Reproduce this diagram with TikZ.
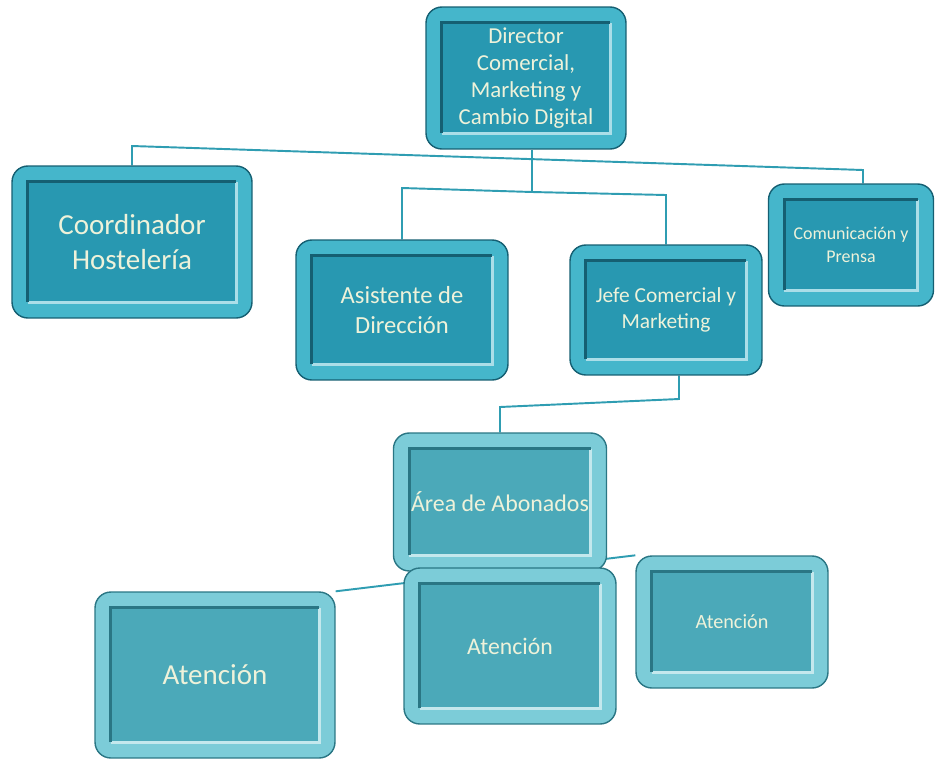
\documentclass[tikz,border=0pt]{standalone}
\usepackage{fontspec}
\setmainfont{Carlito}
\usetikzlibrary{backgrounds}

\definecolor{rimA}{HTML}{45B6CB}
\definecolor{faceA}{HTML}{2898B1}
\definecolor{edgeA}{HTML}{155F72}
\definecolor{rimB}{HTML}{7CCCD8}
\definecolor{faceB}{HTML}{4BA9B9}
\definecolor{edgeB}{HTML}{2A7684}
\definecolor{linkcol}{HTML}{2F9DB2}
\definecolor{txtcol}{HTML}{EEF2DA}

\tikzset{
  orgbox/.style n args={3}{draw=#3, line width=0.8pt, fill=#1, rounded corners=9pt,
    text=txtcol, align=center, inner sep=10pt,
    path picture={
      \fill[#2, sharp corners] ([shift={(9pt,-9pt)}]path picture bounding box.north west)
        rectangle ([shift={(-9pt,9pt)}]path picture bounding box.south east);
      \draw[white!55!#1, line width=1.6pt, sharp corners] ([shift={(9pt,9pt)}]path picture bounding box.south west)
        -| ([shift={(-9pt,-9pt)}]path picture bounding box.north east);
      \draw[#3, line width=1.6pt, sharp corners] ([shift={(9pt,9pt)}]path picture bounding box.south west)
        |- ([shift={(-9pt,-9pt)}]path picture bounding box.north east);
    }},
  darkbox/.style={orgbox={rimA}{faceA}{edgeA}},
  palebox/.style={orgbox={rimB}{faceB}{edgeB}},
  link/.style={draw=linkcol, line width=1.1pt},
}

\begin{document}
\begin{tikzpicture}[x=0.02cm, y=-0.02cm]
    \useasboundingbox (0,0) rectangle (937,758);

    % top level
    \node[darkbox, minimum width=4cm, minimum height=2.84cm,
        font=\fontsize{13}{15.3}\selectfont] (dir) at (526,78)
        {Director\\Comercial,\\Marketing y\\Cambio Digital};

    % second level
    \node[darkbox, minimum width=4.8cm, minimum height=3.04cm,
        font=\fontsize{16.5}{19.5}\selectfont] (coord) at (132,242)
        {Coordinador\\Hostelería};
    \node[darkbox, minimum width=4.24cm, minimum height=2.8cm,
        font=\fontsize{14}{17.5}\selectfont] (asis) at (402,310)
        {Asistente de\\Dirección};
    \node[darkbox, minimum width=3.84cm, minimum height=2.6cm,
        font=\fontsize{12.2}{15}\selectfont] (jefe) at (666,310)
        {Jefe Comercial y\\Marketing};
    \node[darkbox, minimum width=3.3cm, minimum height=2.44cm,
        font=\fontsize{10.2}{13}\selectfont] (comu) at (851,245)
        {Comunicación y\\Prensa};

    % third level
    \node[palebox, minimum width=4.2cm, minimum height=2.76cm,
        font=\fontsize{13.6}{16}\selectfont] (area) at (500,502)
        {Área de Abonados};

    % fourth level
    \node[palebox, minimum width=4.8cm, minimum height=3.32cm,
        font=\fontsize{16.5}{19}\selectfont] (at1) at (215,675) {Atención};
    \node[palebox, minimum width=4.24cm, minimum height=3.12cm,
        font=\fontsize{13.5}{16}\selectfont] (at2) at (510,646) {Atención};
    \node[palebox, minimum width=3.84cm, minimum height=2.64cm,
        font=\fontsize{11.5}{14}\selectfont] (at3) at (732,622) {Atención};

    % connectors
    \coordinate (b1l) at (132,146);
    \coordinate (b1r) at (863,170);
    \coordinate (b2m) at (532,192);
    \coordinate (b2l) at (402,188);
    \coordinate (b2r) at (666,195);
    \coordinate (b3r) at (679,399);
    \coordinate (b3l) at (500,407);
    \begin{scope}[on background layer]
        \draw[link] (coord.north) -- (b1l) -- (b1r) -- (b1r |- comu.north);
        \draw[link] (b2m |- dir.south) -- (b2m);
        \draw[link] (asis.north) -- (b2l) -- (b2m) -- (b2r) -- (jefe.north);
        \draw[link] (b3r |- jefe.south) -- (b3r) -- (b3l) -- (area.north);
        \draw[link] (at1.north east) -- (at3.north west);
    \end{scope}
\end{tikzpicture}
\end{document}
